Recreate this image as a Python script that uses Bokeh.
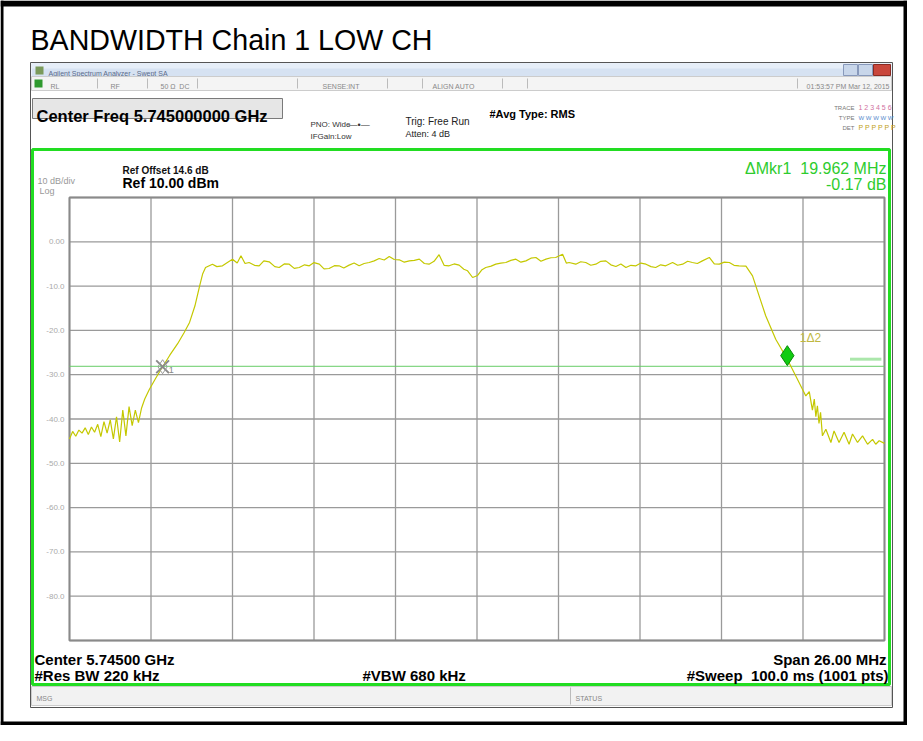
from bokeh.plotting import figure
from bokeh.models import Range1d
from bokeh.core.properties import value
from bokeh.embed import file_html
from bokeh.resources import INLINE

# ---------------- data ----------------
title_text = "BANDWIDTH Chain 1 LOW CH"
center_text = "Center Freq 5.745000000 GHz"

# frequency offset from 5.745 GHz (MHz) and trace level (dBm)
freq_offset_mhz = [
    -13.00, -12.90, -12.80, -12.70, -12.60, -12.50, -12.40, -12.30, -12.20, -12.10,
    -12.00, -11.90, -11.80, -11.70, -11.60, -11.50, -11.40, -11.30, -11.20, -11.10,
    -11.00, -10.90, -10.80, -10.70, -10.60, -10.45, -10.25, -10.03, -9.80, -9.55,
    -9.35, -9.17, -9.00, -8.85, -8.75, -8.66, -8.44, -8.30, -8.12, -7.95,
    -7.80, -7.65, -7.53, -7.40, -7.27, -7.10, -6.95, -6.80, -6.63, -6.45,
    -6.31, -6.15, -5.99, -5.83, -5.67, -5.50, -5.35, -5.20, -5.03, -4.88,
    -4.72, -4.55, -4.40, -4.25, -4.08, -3.92, -3.76, -3.60, -3.44, -3.28,
    -3.12, -2.96, -2.80, -2.64, -2.48, -2.32, -2.16, -2.00, -1.84, -1.68,
    -1.53, -1.37, -1.21, -1.05, -0.89, -0.73, -0.57, -0.42, -0.30, -0.14,
    0.02, 0.16, 0.28, 0.45, 0.60, 0.76, 0.92, 1.08, 1.24, 1.40,
    1.56, 1.72, 1.88, 2.04, 2.20, 2.36, 2.51, 2.73, 2.85, 2.94,
    3.15, 3.31, 3.47, 3.63, 3.79, 3.95, 4.11, 4.27, 4.43, 4.59,
    4.75, 4.91, 5.07, 5.23, 5.39, 5.55, 5.70, 5.86, 6.02, 6.24,
    6.40, 6.56, 6.72, 6.87, 7.03, 7.19, 7.41, 7.57, 7.73, 7.89,
    8.05, 8.20, 8.36, 8.58, 8.79, 9.00, 9.21, 9.53, 9.90, 10.17,
    10.49, 10.60, 10.70, 10.76, 10.81, 10.86, 10.91, 10.96, 11.02, 11.13,
    11.29, 11.39, 11.55, 11.71, 11.87, 11.98, 12.14, 12.30, 12.46, 12.62,
    12.72, 12.83, 13.00,
]
level_dbm = [
    -44.5, -42.8, -43.9, -42.5, -43.2, -42.0, -43.5, -41.8, -43.0, -41.2,
    -44.0, -40.6, -43.2, -40.2, -44.5, -39.5, -45.2, -38.0, -43.8, -37.2,
    -41.5, -38.0, -40.8, -37.5, -35.5, -33.3, -30.8, -28.2, -25.6, -23.0,
    -20.6, -18.2, -14.5, -10.0, -7.2, -5.8, -5.05, -5.6, -5.42, -4.6,
    -3.92, -4.8, -3.17, -4.9, -4.67, -5.3, -5.42, -4.3, -4.52, -5.6,
    -5.80, -5.0, -5.05, -6.0, -5.80, -5.2, -5.42, -4.7, -5.05, -6.1,
    -6.03, -5.4, -5.42, -5.9, -5.27, -4.8, -5.42, -4.9, -4.67, -4.3,
    -3.77, -4.1, -3.32, -4.0, -4.07, -4.6, -4.30, -4.2, -3.92, -4.9,
    -5.05, -4.4, -2.9, -5.3, -5.42, -5.0, -5.27, -6.2, -6.55, -8.06,
    -7.6, -6.3, -5.8, -5.5, -5.05, -4.8, -4.67, -4.2, -3.92, -4.6,
    -4.30, -3.7, -3.54, -4.4, -3.92, -3.6, -3.54, -2.8, -4.8, -4.67,
    -5.05, -4.5, -4.67, -5.3, -5.05, -4.4, -4.30, -5.2, -5.58, -5.0,
    -5.80, -5.3, -5.42, -4.8, -5.05, -5.6, -5.80, -5.2, -5.42, -4.67,
    -5.3, -5.05, -4.4, -4.67, -4.9, -4.30, -3.54, -5.0, -5.05, -4.6,
    -4.67, -5.3, -5.42, -5.5, -7.68, -12.2, -16.7, -22.0, -26.5, -30.3,
    -34.8, -33.8, -38.0, -35.5, -39.5, -37.0, -41.0, -38.5, -43.8, -42.3,
    -45.3, -42.7, -45.3, -43.0, -45.7, -43.4, -45.3, -43.8, -45.7, -44.6,
    -45.7, -44.9, -45.5,
]

x_grid_mhz = [-13.0, -10.4, -7.8, -5.2, -2.6, 0.0, 2.6, 5.2, 7.8, 10.4, 13.0]
y_grid_dbm = [10, 0, -10, -20, -30, -40, -50, -60, -70, -80, -90]
y_tick_values = [0, -10, -20, -30, -40, -50, -60, -70, -80]
y_tick_labels = ["0.00", "-10.0", "-20.0", "-30.0", "-40.0", "-50.0", "-60.0", "-70.0", "-80.0"]

marker1_mhz, marker1_dbm = [-10.03], [-28.2]
marker2_mhz, marker2_dbm = [9.90], [-25.7]
display_line_dbm = -28.1

# ---------------- layout (image pixel coordinates) ----------------
W, H = 907, 725
X0, X1, Y0, Y1 = 8, 8 + W, 8, 8 + H          # canvas spans these image pixels
GL, GR, GT, GB = 77, 892, 205, 648            # graticule box in image pixels
F_MIN, F_MAX, D_TOP, D_BOT = -13.0, 13.0, 10.0, -90.0

mhz_per_px = (F_MAX - F_MIN) / (GR - GL)
db_per_px = (D_TOP - D_BOT) / (GB - GT)

p = figure(width=W, height=H, output_backend="svg", toolbar_location=None,
           x_range=Range1d(X0, X1), y_range=Range1d(Y1, Y0),
           x_axis_type=None, y_axis_type=None, min_border=0,
           background_fill_color="white", border_fill_color="white")
p.outline_line_color = None
p.grid.visible = False
p.extra_x_ranges = {"mhz": Range1d(F_MIN - (GL - X0) * mhz_per_px, F_MAX + (X1 - GR) * mhz_per_px)}
p.extra_y_ranges = {"dbm": Range1d(D_BOT - (Y1 - GB) * db_per_px, D_TOP + (GT - Y0) * db_per_px)}

FONT = value("Liberation Sans")
NB = "\u00a0"


def txt(x, y, s, size, color="#000000", bold=False, align="left", baseline="alphabetic", font=FONT):
    p.text(x=[x], y=[y], text=[s], text_font=font, text_font_size=value(f"{size}px"),
           text_color=color, text_font_style="bold" if bold else "normal",
           text_align=align, text_baseline=baseline)


def box(l, r, t, b, fill, line=None, lw=1):
    p.quad(left=[l], right=[r], top=[t], bottom=[b], fill_color=fill,
           line_color=line, line_width=lw)


# outer black frame
box(8, 915, 8, 14, "black")
box(8, 11, 8, 733, "black")
box(911, 915, 8, 733, "black")
box(8, 915, 729, 733, "black")

# title
txt(38, 47, title_text, 28.6)

# analyzer window
box(38, 900, 70, 715, "#ffffff", "#555555", 1)
box(39, 899, 71, 84, "#d6e2f2")
box(39, 899, 71, 76, "#e6eef8")
txt(56, 81, "Agilent Spectrum Analyzer - Swept SA", 7, "#5a6a8a")
box(43, 51, 74, 82, "#7a9a5a")
box(851, 865, 72, 83, "#c8d6ea", "#8899bb")
box(866, 880, 72, 83, "#c8d6ea", "#8899bb")
box(881, 898, 72, 83, "#c9473c", "#8a2a22")
box(39, 899, 84, 98, "#f4f4f4", "#cccccc")
box(42, 50, 87, 95, "#2f9a2f")
for sx in [105, 155, 205, 305, 395, 430, 510, 535, 805]:
    p.segment(x0=[sx], y0=[86], x1=[sx], y1=[96], line_color="#bbbbbb")
txt(58, 94, "RL", 7, "#888888")
txt(118, 94, "RF", 7, "#888888")
txt(168, 94, f"50 Ω{NB}{NB}DC", 7, "#888888")
txt(330, 94, "SENSE:INT", 7, "#888888")
txt(440, 94, "ALIGN AUTO", 7, "#888888")
txt(897, 94, "01:53:57 PM Mar 12, 2015", 7, "#888888", align="right")

box(40, 290, 106, 126, "#e6e6e6", "#7a7a7a", 1)
txt(44, 123, center_text, 16.5, bold=True)
txt(497, 121, "#Avg Type: RMS", 11, bold=True)
txt(318, 132, "PNO: Wide", 8, "#333333")
txt(318, 144, "IFGain:Low", 8, "#333333")
txt(356, 132, "—•—", 9, "#333333")
txt(413, 129, "Trig: Free Run", 10, "#222222")
txt(413, 141, "Atten: 4 dB", 9, "#222222")
txt(862, 115, "TRACE", 6, "#777777", align="right")
txt(862, 125, "TYPE", 6, "#777777", align="right")
txt(862, 135, "DET", 6, "#777777", align="right")
txt(866, 115, "1 2 3 4 5 6", 7, "#d070a0")
txt(866, 125, "W  W W W W", 6, "#5588cc")
txt(866, 135, "P P P P P P", 7, "#c0a020")

# green measurement frame and status bar
box(40, 897, 157, 692, "#ffffff", "#22dd22", 3)
box(39, 899, 694, 713, "#f2f2f2", "#cccccc")
p.segment(x0=[578], y0=[695], x1=[578], y1=[712], line_color="#bbbbbb")
txt(44, 706, "MSG", 7, "#888888")
txt(583, 706, "STATUS", 7, "#888888")

txt(894, 176, f"ΔMkr1{NB}{NB}19.962 MHz", 16, "#2ecc2e", align="right")
txt(894, 192, "-0.17 dB", 16, "#2ecc2e", align="right")
txt(130, 178, "Ref Offset 14.6 dB", 10, "#111111", bold=True)
txt(130, 190, "Ref 10.00 dBm", 14, bold=True)
txt(45, 188, "10 dB/div", 9, "#999999")
txt(47, 198, "Log", 9, "#999999")

txt(42, 667, "Center 5.74500 GHz", 15, bold=True)
txt(894, 667, "Span 26.00 MHz", 15, bold=True, align="right")
txt(42, 683, "#Res BW 220 kHz", 15, bold=True)
txt(370, 683, "#VBW 680 kHz", 15, bold=True)
txt(896, 683, f"#Sweep{NB}{NB}100.0 ms (1001 pts)", 15, bold=True, align="right")

# graticule
R = dict(x_range_name="mhz", y_range_name="dbm")
p.segment(x0=x_grid_mhz, y0=[D_BOT] * len(x_grid_mhz), x1=x_grid_mhz, y1=[D_TOP] * len(x_grid_mhz),
          line_color="#9a9a9a", line_width=1.3, **R)
p.segment(x0=[F_MIN] * len(y_grid_dbm), y0=y_grid_dbm, x1=[F_MAX] * len(y_grid_dbm), y1=y_grid_dbm,
          line_color="#9a9a9a", line_width=1.3, **R)
p.quad(left=[F_MIN], right=[F_MAX], top=[D_TOP], bottom=[D_BOT], fill_color=None,
       line_color="#8a8a8a", line_width=2, **R)
p.text(x=[GL - 5] * len(y_tick_values), y=y_tick_values, text=y_tick_labels,
       text_font=FONT, text_font_size=value("8px"), text_color="#aaaaaa",
       text_align="right", text_baseline="middle", y_range_name="dbm")

# display line
p.segment(x0=[F_MIN], y0=[display_line_dbm], x1=[F_MAX], y1=[display_line_dbm],
          line_color="#66cc66", line_width=1, **R)
p.segment(x0=[11.9], y0=[-26.5], x1=[12.9], y1=[-26.5], line_color="#88dd88",
          line_width=3, line_alpha=0.7, **R)

# trace
p.line(freq_offset_mhz, level_dbm, line_color="#c4c800", line_width=1.2, **R)

# markers
p.scatter(marker1_mhz, marker1_dbm, marker="x", size=18, line_color="#8a8a8a", line_width=2, **R)
p.scatter(marker1_mhz, marker1_dbm, marker="diamond", size=14, fill_color=None,
          line_color="#9a9a9a", line_width=1, **R)
p.text(x=[m + 0.2 for m in marker1_mhz], y=[d - 1.5 for d in marker1_dbm], text=["1"],
       text_font=FONT, text_font_size=value("9px"), text_color="#888888", **R)
p.scatter(marker2_mhz, marker2_dbm, marker="diamond", size=20, fill_color="#11cc11",
          line_color="#0a8a0a", line_width=1, **R)
p.text(x=[m + 0.4 for m in marker2_mhz], y=[d + 2.5 for d in marker2_dbm], text=["1Δ2"],
       text_font=FONT, text_font_size=value("12px"), text_color="#c0b840", **R)

open("out.html", "w").write(file_html(p, INLINE))
